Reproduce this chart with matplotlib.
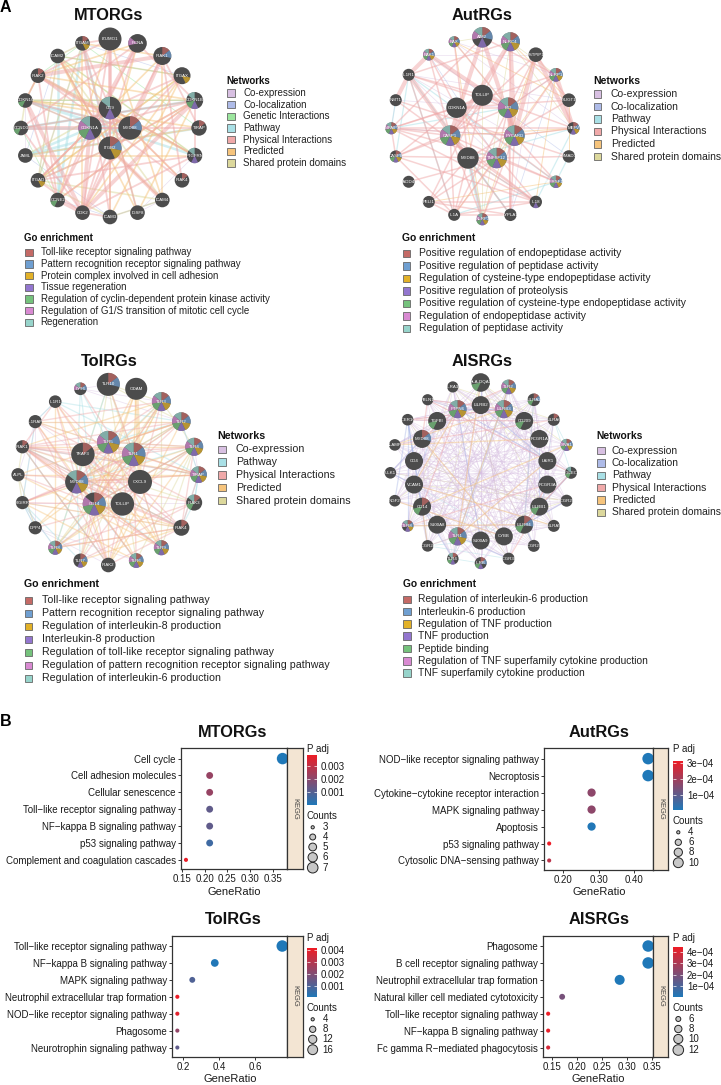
import matplotlib
matplotlib.use("Agg")
import matplotlib.pyplot as plt
import numpy as np
from matplotlib.collections import LineCollection
from matplotlib.colors import LinearSegmentedColormap, Normalize
from matplotlib.cm import ScalarMappable
from matplotlib.patches import Circle, Wedge, Rectangle

plt.rcParams['font.family'] = ['Liberation Sans', 'DejaVu Sans']

W, H = 721, 1085

# ---------- panel A data ----------
net_colors = {"Co-expression": "#d8c0e2", "Co-localization": "#aebbe8", "Genetic Interactions": "#9ce69e",
              "Pathway": "#a9e0e6", "Physical Interactions": "#f0a9a9", "Predicted": "#f6c47c",
              "Shared protein domains": "#dcd89c"}
go_colors = ["#c46a66", "#6f9fd1", "#e2b128", "#9376cf", "#75c27c", "#d98ad2", "#97d4cb"]

mtor_outer = ["IZUMO1", "PCNA", "IRAK1", "ITGAX", "CDKN1B", "TIRAP", "PTGFRN", "IRAK4", "ICAM4", "IGSF8",
              "ICAM3", "CDK2", "CCNE2", "ITGAD", "JAML", "CCND3", "CDKN1C", "IRAK2", "ICAM2", "ITGAM"]
mtor_inner = ["CD9", "MYD88", "ITGB2", "CDKN1A"]
mtor_terms = ["", "5", "01", "2", "346", "0", "36", "0", "", "", "", "", "4", "2", "", "4", "4", "0", "", "02",
              "36", "01", "012", "3456"]
mtor_networks = ["Co-expression", "Co-localization", "Genetic Interactions", "Pathway", "Physical Interactions",
                 "Predicted", "Shared protein domains"]
mtor_go = ["Toll-like receptor signaling pathway", "Pattern recognition receptor signaling pathway",
           "Protein complex involved in cell adhesion", "Tissue regeneration",
           "Regulation of cyclin-dependent protein kinase activity",
           "Regulation of G1/S transition of mitotic cell cycle", "Regeneration"]
mtor_edges = [
    ("Co-expression", "18:3 13 19;8:10 9 22;16:14 4;9:20 6", 0.5),
    ("Co-localization", "19:3 13;14:18 10;10:8 12", 0.5),
    ("Genetic Interactions", "16:4 23 20 17;15:12 4;19:17 5;18:3 6", 0.6),
    ("Pathway", "14:21 5 23;15:4 21;19:12 22;18:12;16:6 21", 1.8),
    ("Shared protein domains", "13:3 19 22 18 10 8;18:19 3 22 6;16:15 4;20:6 9 14;17:6;8:10 18", 1.2),
    ("Predicted", "17:1 4 16 21;18:7 9 22;19:11 2;3:10 11 13;5:16 14;4:9 12;20:10 16 6;22:8 4 1;0:12 8;14:6;2:8 13",
     1.2),
    ("Physical Interactions", "20:22 6 9 3 13 19;23:4 12 16 13 21;21:7 5 23 11;2:7 5 11;"
                              "22:3 13 18 19 10 4 11 0;4:12 15 6 1;16:12 21 17;11:15 1 0 13 10;1:15 12;"
                              "17:0 12 7;19:0 10;6:13 11", 1.3),
    ("Physical Interactions", "20:0;23:1 11 15;21:2 17;2:17;22:8;4:11;16:11;11:12", 2.8),
]

aut_outer = ["AIM2", "NLRC4", "PSTPIP1", "NLRP1", "SUGT1", "MEFV", "SMAD3", "TNFRSF10B", "IL18", "LYPLA1",
             "NLRP3", "IL1A", "PELI1", "GADD45", "CASP8", "TNFAIP3", "NMT1", "IL1R1", "BAK1", "BAX"]
aut_inner = ["TOLLIP", "BID", "PYCARD", "TNFSF12", "MYD88", "CASP1", "CDKN1A"]
aut_terms = ["01356", "0123456", "", "0123456", "", "0123", "", "0123456", "3", "", "0123456", "", "", "",
             "01234", "0123456", "", "", "0123456", "0123456", "", "0123456", "0123456", "0123456", "",
             "0123456", ""]
aut_networks = ["Co-expression", "Co-localization", "Pathway", "Physical Interactions", "Predicted",
                "Shared protein domains"]
aut_go = ["Positive regulation of endopeptidase activity", "Positive regulation of peptidase activity",
          "Regulation of cysteine-type endopeptidase activity", "Positive regulation of proteolysis",
          "Positive regulation of cysteine-type endopeptidase activity", "Regulation of endopeptidase activity",
          "Regulation of peptidase activity"]
aut_edges = [
    ("Co-expression", "17:4 22 23;16:21 15;2:18 9;19:5 3", 0.5),
    ("Co-localization", "3:9 21;18:6 23;15:22", 0.5),
    ("Pathway", "24:9 8;17:11 7 9 14;16:15;7:6 11;15:21;5:24 8", 0.9),
    ("Pathway", "24:10", 2.6),
    ("Shared protein domains", "0:10 19;1:3 10 5;19:21", 0.6),
    ("Predicted", "19:10 4;2:10 23;3:8 11;5:22 25;4:1 6;7:12", 0.7),
    ("Physical Interactions", "24:12 11 8 20 9 25 10 4 19;25:2 8 10 11 14 15 18 7;22:3 5 10 21 15 7 9;"
                              "21:19 23 3 26 9 17 14;23:7 6 14 15 11 12 13;26:15 14 18 7 8 20 4;20:17 1 5 12 25;"
                              "0:15 3;1:17 9;2:4 11;3:15;17:11;16:8 6;14:15 11 8;15:8 5;11:8 9 12;12:9 8", 1.1),
    ("Physical Interactions", "17:16 18 24;2:5 22;3:5;0:25 22;1:25 22;21:18 22", 3.0),
]

tol_outer = ["TLR10", "ODAM", "TLR3", "TLR2", "TLR4", "TIRAP", "IRAK3", "IRAK4", "TLR9", "TLR6",
             "IRAK2", "TLR7", "TLR8", "DPP4", "SIGIRR", "ALPL", "IRAK1", "IL1RAP", "IL1R1", "LY96"]
tol_inner = ["TLR5", "TLR1", "CXCL9", "TOLLIP", "CD14", "MYD88", "TRAF3"]
tol_terms = ["01", "", "0123456", "0123456", "0123456", "0123456", "046", "0", "0123456", "0123456", "", "0123",
             "0123456", "", "", "", "0", "", "", "0156", "0123456", "0123456", "", "", "012345", "01236", "0"]
tol_networks = ["Co-expression", "Pathway", "Physical Interactions", "Predicted", "Shared protein domains"]
tol_go = ["Toll-like receptor signaling pathway", "Pattern recognition receptor signaling pathway",
          "Regulation of interleukin-8 production", "Interleukin-8 production",
          "Regulation of toll-like receptor signaling pathway",
          "Regulation of pattern recognition receptor signaling pathway", "Regulation of interleukin-6 production"]
tol_edges = [
    ("Co-expression", "17:3 7 13 14 18 5;14:13 12 7 6;19:2 3 0;13:10 9;15:13 17;5:4 3", 0.6),
    ("Shared protein domains", "0:9 11 12 8 3 2;2:8 11 12 4;4:9 12 8 20;21:0 3;15:14 16;16:6 7 10;13:15", 0.9),
    ("Pathway", "25:0 2 3 4 8 9 11 12 19;16:7 10 5;14:12 11 13 17;18:17 3 5;6:7 5;24:12 19 4;5:6 3 7;20:19 3", 0.9),
    ("Predicted", "1:21 24 11 20;2:21 16 24 13;3:15 17 26 25 10;4:14 16 24 10;5:15 17 25 26;7:14 12 24 11;"
                  "8:15 16 26 20;9:14 26 17;12:23 21 18;18:10 8;10:20 22;13:21", 1.0),
    ("Predicted", "1:22", 3.0),
    ("Physical Interactions", "25:5 6 7 10 16 18 17 14 23 24 26 20 21 22;21:0 3 9 4 24 20 5 10;20:4 24 26 16;"
                              "16:7 10 5 3 22 18 24 21 8;26:7 10 16 3 4 2;23:16 7 4 13 18;24:4 3 2 8 9 15 11;"
                              "7:10 5 18 4 12;22:12 8 15 11 19 2;17:10 2 6;14:24 21 25;6:11 12", 1.0),
]

ais_outer = ["HLA-DQA1", "TLR2", "LILRA2", "LILRA6", "SIVA1", "SIGLEC9", "FCGR2B", "LILRA5", "FCGR2C", "FCGR3B",
             "ILRB", "TLR4", "FCGR2A", "TLR8", "NGF2", "ULK1", "SLAMF7", "FCER1G", "FBLN1", "ILRA3"]
ais_inner = ["LILRB2", "LILRB3", "CD209", "FCGR1A", "LAIR1", "FCGR3A", "LILRB1", "LILRB4", "CYBB", "S100A9",
             "TLR1", "S100A8", "CD14", "VCAM1", "CD4", "MYD88", "TGFBI", "PTPN6"]
ais_terms = ["4", "0123456", "014", "0", "0123456", "46", "", "", "", "", "0134", "0346", "", "012356", "", "",
             "", "", "", "", "", "0123456", "4", "", "", "", "4", "014", "", "", "0123456", "", "04", "", "",
             "01", "4", "0123456"]
ais_networks = ["Co-expression", "Co-localization", "Pathway", "Physical Interactions", "Predicted",
                "Shared protein domains"]
ais_go = ["Regulation of interleukin-6 production", "Interleukin-6 production", "Regulation of TNF production",
          "TNF production", "Peptide binding", "Regulation of TNF superfamily cytokine production",
          "TNF superfamily cytokine production"]
ais_edges = [
    ("Shared protein domains", "0:4 7 31 23;19:3 8 24 13;6:12 15 33;9:17 20;2:14 27;26:5 34", 0.6),
    ("Pathway", "3:4 5 24;11:10 30;12:29 9;1:11;18:37;33:28", 0.6),
    ("Co-expression", "20:2 5 9 13 16 24 27 30 33 36 8 12 28 29;21:3 6 10 14 17 25 28 31 34 37 7 29 30;"
                      "22:1 4 8 11 15 18 26 29 32 35 12 31 30;23:0 5 9 13 19 27 30 33 36 2 32 31;"
                      "24:1 6 10 14 18 28 31 34 37 33 32;25:2 7 11 15 29 32 35 19 33 34;26:3 8 12 16 30 33 36 0 35 34;"
                      "27:4 9 13 17 31 34 37 1 35 36;28:5 10 14 18 32 35 2 37 36;29:6 11 15 19 33 36 3 37;"
                      "30:7 12 16 0 34 37 4;31:8 13 17 1 35 5;32:9 14 18 2 36 6;33:10 15 19 3 37 7;34:11 16 0 4 8;"
                      "35:12 17 1 5 9;36:13 18 2 6 10;37:14 19 3 7 11;0:6 9 13 10 11;1:7 10 14 16 11 12;"
                      "2:8 11 15 12 13;3:9 12 17 13 14;4:10 13 18 14 15;5:11 14 19 15 16;6:13 15 18 16 17;"
                      "7:14 16 17 18;8:15 17 18 19;9:16 18 19;10:17 19;11:18;12:19;0:21 37 22 36 20;1:20 21 22 23;"
                      "2:21 22 23 24;3:22 23 24 25;4:23 24 25 26;5:24 25 26 27;6:25 26 27 28;7:26 27 28 29;"
                      "8:27 28 29 30;9:28 29 30 31;10:29 30 31 32;11:30 31 32 33;12:31 32 33 34;13:32 33 34 35;"
                      "14:33 34 35 36;15:34 35 36 37;16:35 36 37 20;17:36 37 20 21;18:37 20 21 22;19:20 21 37 36",
     0.5),
    ("Co-localization", "17:13 14 32 34 12;37:24 21 29;33:15 36;32:11 31;15:35;27:2 5 6 8;30:1 9;26:23 25;20:0 24",
     0.9),
    ("Predicted", "30:0 1 24;16:23 21;32:4 12;28:14 35;33:7 37;27:13", 0.9),
    ("Physical Interactions", "17:22 21;35:37 18;18:5 21;37:32 1;25:27 13;26:9 5;16:3", 0.9),
]

# ---------- panel B data ----------
mtor_path = ["Cell cycle", "Cell adhesion molecules", "Cellular senescence", "Toll\u2212like receptor signaling pathway",
             "NF\u2212kappa B signaling pathway", "p53 signaling pathway", "Complement and coagulation cascades"]
mtor_ratio = [0.372, 0.2105, 0.2105, 0.2105, 0.2105, 0.2105, 0.158]
mtor_padj = [0.00002, 0.0022, 0.0022, 0.0012, 0.0012, 0.0006, 0.0037]
mtor_count = [7, 4, 4, 4, 4, 4, 3]
mtor_xticks = [0.15, 0.20, 0.25, 0.30, 0.35]
mtor_cticks = [0.001, 0.002, 0.003]
mtor_legend = [3, 4, 5, 6, 7]

aut_path = ["NOD\u2212like receptor signaling pathway", "Necroptosis", "Cytokine\u2212cytokine receptor interaction",
            "MAPK signaling pathway", "Apoptosis", "p53 signaling pathway", "Cytosolic DNA\u2212sensing pathway"]
aut_ratio = [0.44, 0.44, 0.28, 0.28, 0.28, 0.16, 0.16]
aut_padj = [0.05e-4, 0.05e-4, 1.7e-4, 1.7e-4, 0.08e-4, 3.15e-4, 2.4e-4]
aut_count = [11, 11, 7, 7, 7, 4, 4]
aut_xticks = [0.20, 0.30, 0.40]
aut_cticks = [1e-4, 2e-4, 3e-4]
aut_legend = [4, 6, 8, 10]

tol_path = ["Toll\u2212like receptor signaling pathway", "NF\u2212kappa B signaling pathway", "MAPK signaling pathway",
            "Neutrophil extracellular trap formation", "NOD\u2212like receptor signaling pathway", "Phagosome",
            "Neurotrophin signaling pathway"]
tol_ratio = [0.75, 0.375, 0.25, 0.167, 0.167, 0.167, 0.167]
tol_padj = [0.00002, 0.00005, 0.001, 0.0041, 0.0039, 0.0023, 0.0013]
tol_count = [18, 9, 6, 4, 4, 4, 4]
tol_xticks = [0.2, 0.4, 0.6]
tol_cticks = [0.001, 0.002, 0.003, 0.004]
tol_legend = [4, 8, 12, 16]

ais_path = ["Phagosome", "B cell receptor signaling pathway", "Neutrophil extracellular trap formation",
            "Natural killer cell mediated cytotoxicity", "Toll\u2212like receptor signaling pathway",
            "NF\u2212kappa B signaling pathway", "Fc gamma R\u2212mediated phagocytosis"]
ais_ratio = [0.343, 0.343, 0.286, 0.171, 0.143, 0.143, 0.143]
ais_padj = [0.02e-4, 0.02e-4, 0.02e-4, 1.9e-4, 4.4e-4, 4.3e-4, 3.9e-4]
ais_count = [12, 12, 10, 6, 5, 5, 5]
ais_xticks = [0.15, 0.20, 0.25, 0.30, 0.35]
ais_cticks = [1e-4, 2e-4, 3e-4, 4e-4]
ais_legend = [6, 8, 10, 12]

cmap = LinearSegmentedColormap.from_list("padj", ["#1f78b8", "#ee1c25"])

fig = plt.figure(figsize=(W / 100, H / 100), dpi=100)
# page axes in pixel units, y going down, for the networks and free legends
page = fig.add_axes([0, 0, 1, 1])
page.set_xlim(0, W)
page.set_ylim(H, 0)
page.axis("off")


def ax_px(l, t, r, b):
    return fig.add_axes([l / W, 1 - b / H, (r - l) / W, (b - t) / H])


def ring(cx, cy, rad, n):
    a = np.arange(n) * 2 * np.pi / n
    return np.column_stack([cx + rad * np.sin(a), cy - rad * np.cos(a)])


def parse_edges(txt):
    pairs = []
    for part in txt.split(";"):
        hub, rest = part.split(":")
        for t in rest.split():
            pairs.append((int(hub), int(t)))
    return pairs


def draw_network(cx, cy, r_out, r_in, outer, inner, terms, edges, radii, edge_alpha):
    xy = np.vstack([ring(cx, cy, r_out, len(outer)), ring(cx, cy, r_in, len(inner))])
    for name, txt, lw in edges:
        segs = [[xy[a], xy[b]] for a, b in parse_edges(txt)]
        page.add_collection(LineCollection(segs, colors=net_colors[name], linewidths=lw, alpha=edge_alpha, zorder=1))
    for i, gene in enumerate(outer + inner):
        x, y = xy[i]
        r = radii[i]
        page.add_patch(Circle((x, y), r, fc="#4c4c4c", ec="none", zorder=2))
        for t in terms[i]:
            k = int(t)
            page.add_patch(Wedge((x, y), r, -90 + k * 360 / 7, -90 + (k + 1) * 360 / 7, fc=go_colors[k], ec="none",
                                 alpha=0.72, zorder=3))
        page.text(x, y, gene, color="white", fontsize=3.2, ha="center", va="center", zorder=4)


def legend_block(x_title, y_title, x_text, y0, step, size, title, labels, colors):
    page.text(x_title, y_title, title, fontsize=size, fontweight="bold", ha="left", va="center", color="#111111")
    for i, (lab, col) in enumerate(zip(labels, colors)):
        yy = y0 + i * step
        page.add_patch(Rectangle((x_title + 0.5, yy - 3.8), 7.5, 7.5, fc=col, ec="#666666", lw=0.6))
        page.text(x_text, yy, lab, fontsize=size, ha="left", va="center", color="#222222")


radii_mtor = [11.5, 9.3, 9, 8.5, 8.5, 7.7, 7.7] + [7.3] * 13 + [11.3, 11.7, 11.5, 11.7]
radii_aut = [10.2, 9.5, 7.3, 6.8, 6.8, 6.2, 6.2, 6.2, 6.2, 6.2, 6, 6, 6, 6, 6, 6, 6, 6, 5.8, 5.5,
             10.5, 10.2, 10.2, 10.2, 10.7, 10.2, 10.2]
radii_tol = [11.5, 11, 9.5, 9.3, 9, 8.3, 8, 8, 7.5, 7.3, 7.3, 7, 7, 6.6, 6.6, 6.6, 6.6, 6.6, 6.3, 6.3,
             11.3, 11.7, 12, 11.7, 11.5, 11.5, 11.7]
radii_ais = [9.3, 7.3, 6.3, 6.1, 6, 6, 6, 6, 6, 6, 6, 5.8, 5.8, 5.8, 5.8, 5.8, 5.8, 5.8, 5.6, 5.6,
             9, 9, 9, 9, 9, 9, 9, 9, 9, 9, 9, 9, 9, 9, 9, 9, 9, 9]

draw_network(110, 128, 89, 20, mtor_outer, mtor_inner, mtor_terms, mtor_edges, radii_mtor, 0.5)
draw_network(482.3, 128.3, 91, 33, aut_outer, aut_inner, aut_terms, aut_edges, radii_aut, 0.5)
draw_network(108.3, 474.7, 90.3, 32.5, tol_outer, tol_inner, tol_terms, tol_edges, radii_tol, 0.42)
draw_network(480.7, 472.8, 90.3, 67.7, ais_outer, ais_inner, ais_terms, ais_edges, radii_ais, 0.45)

legend_block(226.5, 81, 243, 93, 11.67, 7.0, "Networks", mtor_networks, [net_colors[n] for n in mtor_networks])
legend_block(24.5, 237.7, 40.7, 252.3, 11.67, 7.0, "Go enrichment", mtor_go, go_colors)
legend_block(593, 81, 610.7, 94, 12.5, 7.45, "Networks", aut_networks, [net_colors[n] for n in aut_networks])
legend_block(402, 238, 419.3, 253.3, 12.5, 7.45, "Go enrichment", aut_go, go_colors)
legend_block(217.7, 436, 235.7, 449.3, 12.8, 7.65, "Networks", tol_networks, [net_colors[n] for n in tol_networks])
legend_block(24, 584.3, 42.3, 600.3, 13, 7.65, "Go enrichment", tol_go, go_colors)
legend_block(596.7, 435.7, 611.7, 450.7, 12.33, 7.4, "Networks", ais_networks, [net_colors[n] for n in ais_networks])
legend_block(402.7, 584.3, 417.7, 599.3, 12.33, 7.4, "Go enrichment", ais_go, go_colors)

for x, y, s in [(109, 15, "MTORGs"), (481.7, 15, "AutRGs"), (109, 361, "ToIRGs"), (481.7, 361, "AISRGs"),
                (233, 732.7, "MTORGs"), (598.7, 732.7, "AutRGs"), (233, 919, "ToIRGs"), (598.7, 919, "AISRGs")]:
    page.text(x, y, s, fontsize=11.8, fontweight="bold", ha="center", va="center", color="#111111")
page.text(0, 7, "A", fontsize=11.5, fontweight="bold", ha="left", va="center")
page.text(0, 722, "B", fontsize=11.5, fontweight="bold", ha="left", va="center")


def dot_radius(c, cmin, cmax):
    # area scale, like ggplot scale_size
    lo, hi = 1.6, 5.3
    return np.sqrt(lo ** 2 + (c - cmin) / (cmax - cmin) * (hi ** 2 - lo ** 2))


def dotplot(box, strip_r, xlim, xticks, xfmt, paths, ratio, padj, count, cbox, clim, cticks, cfmt, leg, leg_y,
            leg_x, padj_y, counts_y, cmin, cmax):
    l, t, r, b = box
    ax = ax_px(l, t, r, b)
    norm = Normalize(*clim)
    y = np.arange(len(paths))
    sizes = [(2 * (dot_radius(c, cmin, cmax) + 0.45) * 0.72) ** 2 for c in count]
    ax.scatter(ratio, y, s=sizes, c=padj, cmap=cmap, norm=norm, linewidths=0, zorder=3, clip_on=False)
    ax.set_xlim(*xlim)
    ax.set_ylim(len(paths) - 1 + 0.56, -0.61)
    ax.set_yticks(y, paths)
    ax.set_xticks(xticks, [xfmt % v for v in xticks])
    ax.tick_params(labelsize=7, length=2.2, width=0.7, color="#333333", labelcolor="#1a1a1a", pad=1.5)
    ax.set_xlabel("GeneRatio", fontsize=8, labelpad=1.5, color="#1a1a1a")
    for sp in ax.spines.values():
        sp.set_linewidth(0.9)
        sp.set_color("#333333")

    st = ax_px(r, t, strip_r, b)
    st.set_facecolor("#f3e5d3")
    st.set_xticks([])
    st.set_yticks([])
    for sp in st.spines.values():
        sp.set_linewidth(0.9)
        sp.set_color("#333333")
    st.text(0.5, 0.5, "KEGG", rotation=270, fontsize=5.4, ha="center", va="center", color="#444444",
            transform=st.transAxes)

    cax = ax_px(*cbox)
    cb = fig.colorbar(ScalarMappable(norm=norm, cmap=cmap), cax=cax)
    cb.outline.set_visible(False)
    cb.set_ticks(cticks, labels=[cfmt(v) for v in cticks])
    cax.tick_params(right=True, left=True, direction="in", color="white", length=2, width=0.5,
                    labelsize=7, labelcolor="#1a1a1a", pad=3)

    page.text(cbox[0], padj_y, "P adj", fontsize=7, ha="left", va="center", color="#1a1a1a")
    page.text(cbox[0], counts_y, "Counts", fontsize=7, ha="left", va="center", color="#1a1a1a")
    for c, yy in zip(leg, leg_y):
        page.add_patch(Circle((leg_x, yy), dot_radius(c, cmin, cmax), fc="#c8c8c8", ec="#222222", lw=0.7))
        page.text(leg_x + 10, yy, str(c), fontsize=7, ha="left", va="center", color="#1a1a1a")


def fmt_dec(v):
    return "%.3f" % v


def fmt_sci(v):
    return "%de\u221204" % round(v * 1e4)


dotplot((181, 748.3, 287.3, 869.3), 302.7, (0.147, 0.3825), mtor_xticks, "%.2f", mtor_path, mtor_ratio, mtor_padj,
        mtor_count, (306.7, 755, 316.7, 805), (0.00001, 0.0038), mtor_cticks, fmt_dec, mtor_legend,
        [827.3, 837, 847, 857.3, 867.7], 312.7, 749, 815.7, 3, 7)
dotplot((544.3, 748.3, 653.3, 870), 668.3, (0.1462, 0.4547), aut_xticks, "%.2f", aut_path, aut_ratio, aut_padj,
        aut_count, (672.7, 760.7, 682.7, 810), (0.05e-4, 3.17e-4), aut_cticks, fmt_sci, aut_legend,
        [832.3, 842.3, 852.3, 862.7], 678.3, 749, 821, 4, 11)
dotplot((172.3, 935.7, 287.3, 1057), 302.7, (0.139, 0.778), tol_xticks, "%.1f", tol_path, tol_ratio, tol_padj,
        tol_count, (306.7, 948.3, 316.7, 997.3), (0.00001, 0.00417), tol_cticks, fmt_dec, tol_legend,
        [1019.3, 1029.3, 1039.3, 1049.7], 312.7, 938.3, 1008.3, 4, 18)
dotplot((543.3, 935.7, 653.3, 1057), 668.3, (0.1333, 0.3533), ais_xticks, "%.2f", ais_path, ais_ratio, ais_padj,
        ais_count, (672.7, 947.3, 682.7, 996.7), (0.01e-4, 4.45e-4), ais_cticks, fmt_sci, ais_legend,
        [1019, 1029, 1039, 1050], 678.3, 938.3, 1007.7, 5, 12)

fig.savefig("out.png", dpi=100)
